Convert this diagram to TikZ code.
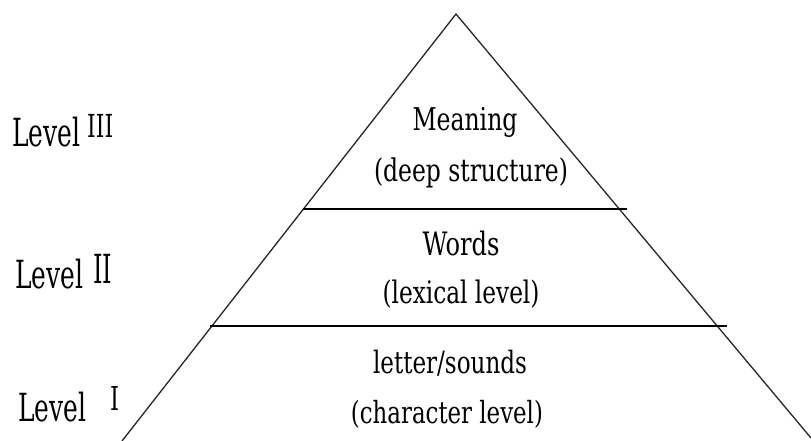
\documentclass[tikz,border=0pt]{standalone}
\usepackage{fontspec}
\usepackage{graphicx}
\setmainfont{DejaVu Serif Condensed}
\newcommand\fitto[3]{\scalebox{1}[#2]{\resizebox{#1}{!}{#3}}}
\begin{document}
\begin{tikzpicture}[x=1pt,y=-1pt,
  txt/.style={anchor=base, inner sep=0pt, font=\fontsize{25}{30}\selectfont},
  lvl/.style={anchor=base west, inner sep=0pt, font=\fontsize{25}{32}\selectfont},
  side/.style={line width=1.3pt, black!85},
  tier/.style={line width=1.8pt, black}]
\useasboundingbox (0,0) rectangle (811,441);
\coordinate (apex) at (456,14);
\coordinate (bl) at (122,441);
\coordinate (br) at (811,438);
\coordinate (t1l) at (303,209);
\coordinate (t1r) at (627,209);
\coordinate (t2l) at (210,326);
\coordinate (t2r) at (727,326);
\draw[side] (bl) -- (apex) -- (br);
\draw[tier] (t1l) -- (t1r);
\draw[tier] (t2l) -- (t2r);
\node[txt] (mean) at (465,130) {\fitto{105pt}{1.2}{Meaning}};
\node[txt] (deep) at (471,182) {\fitto{194pt}{1.2}{(deep structure)}};
\node[txt] (words) at (461,255) {\fitto{77pt}{1.2}{Words}};
\node[txt] (lex) at (461,303) {\fitto{157pt}{1.2}{(lexical level)}};
\node[txt] (let) at (450,373) {\fitto{154pt}{1.2}{letter/sounds}};
\node[txt] (char) at (447,423) {\fitto{192pt}{1.2}{(character level)}};
\node[lvl] (l3) at (12,147) {\fitto{68pt}{1.4}{Level}};
\node[lvl] (l3n) at (87,137) {\fitto{26pt}{1.3}{III}};
\node[lvl] (l2) at (15,288) {\fitto{68pt}{1.4}{Level}};
\node[lvl] (l2n) at (93,283) {\fitto{19pt}{1.5}{II}};
\node[lvl] (l1) at (18,421) {\fitto{68pt}{1.4}{Level}};
\node[lvl] (l1n) at (110,410) {\fitto{9pt}{1.3}{I}};
\end{tikzpicture}
\end{document}
